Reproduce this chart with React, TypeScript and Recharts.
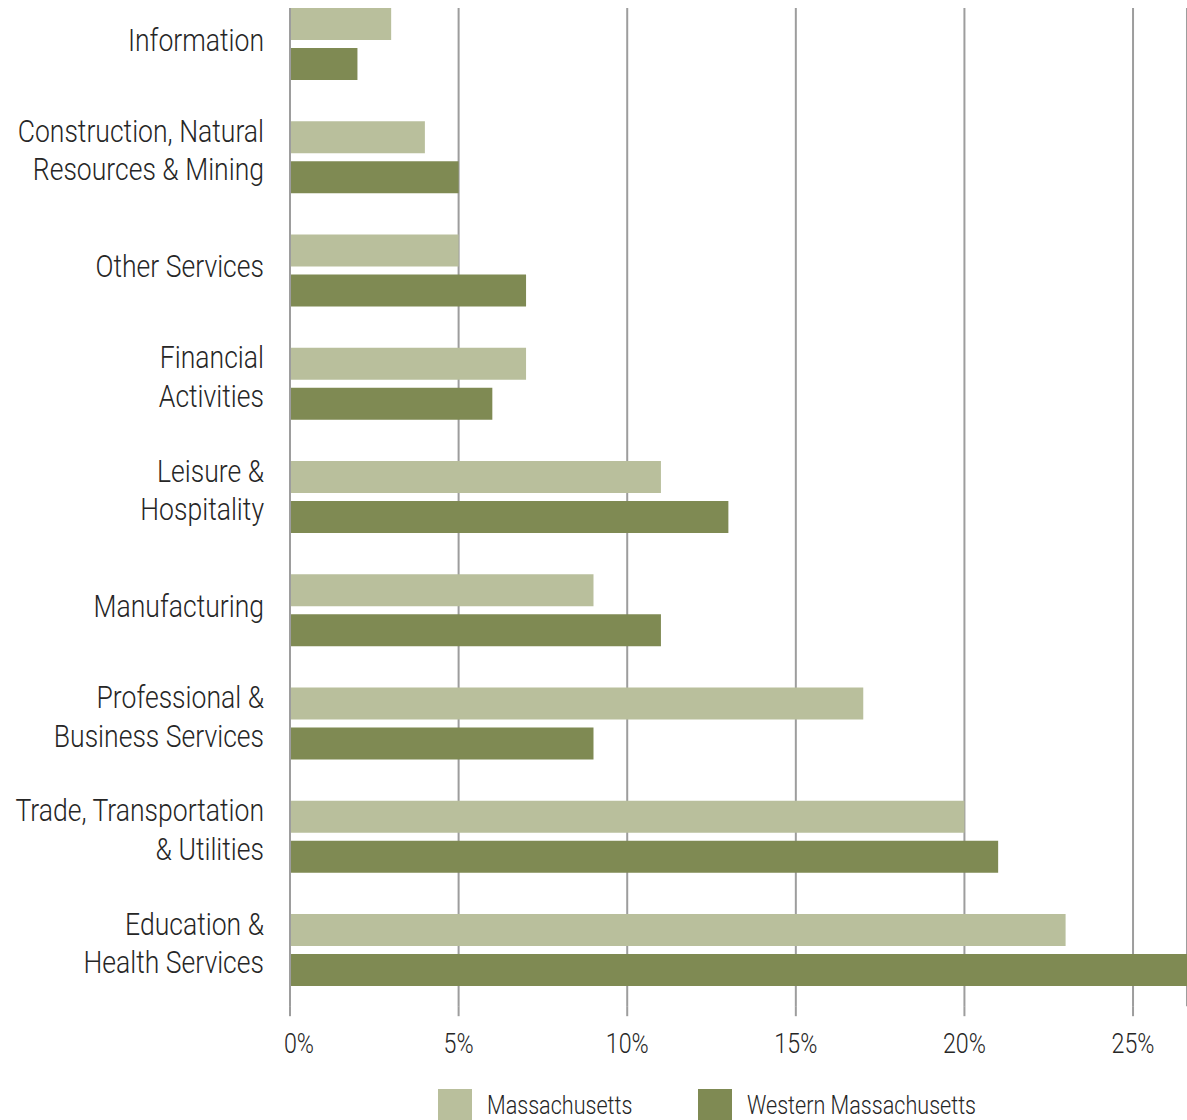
import React from 'react';
import { BarChart, Bar, XAxis, YAxis, CartesianGrid, Legend } from 'recharts';

// --- Data ---
const categories = [
    'Information',
    'Construction, Natural\nResources & Mining',
    'Other Services',
    'Financial\nActivities',
    'Leisure &\nHospitality',
    'Manufacturing',
    'Professional &\nBusiness Services',
    'Trade, Transportation\n& Utilities',
    'Education &\nHealth Services',
];

const massachusetts = [3, 4, 5, 7, 11, 9, 17, 20, 23];
const westernMassachusetts = [2, 5, 7, 6, 13, 11, 9, 21, 27];

const xTicks = [0, 5, 10, 15, 20, 25];

const SERIES = [
    { key: 'ma', name: 'Massachusetts', color: '#b9bf9c' },
    { key: 'wma', name: 'Western Massachusetts', color: '#7f8a53' },
];

const data = categories.map((name, i) => ({
    name,
    ma: massachusetts[i],
    wma: westernMassachusetts[i],
}));

// no condensed font installed, so squeeze Roboto Light horizontally
const FONT = 'Roboto, "Liberation Sans", sans-serif';
const SQUEEZE = 0.83;
const TEXT = '#262626';
const GRID = '#9d9d9d';

const CategoryTick = ({ x, y, payload }: any) => {
    const lines = String(payload.value).split('\n');
    const offsets = lines.length === 1 ? [7] : [-15, 23.5];
    return (
        <g>
            {lines.map((line, i) => (
                <text
                    key={i}
                    transform={`translate(${x},${y + offsets[i]}) scale(${SQUEEZE},1)`}
                    textAnchor="end"
                    fontFamily={FONT}
                    fontWeight={300}
                    fontSize={32}
                    fill={TEXT}
                >
                    {line}
                </text>
            ))}
        </g>
    );
};

const PercentTick = ({ x, y, payload }: any) => (
    <text
        transform={`translate(${payload.value === 0 ? x + 9 : x},${y + 37}) scale(${SQUEEZE},1)`}
        textAnchor="middle"
        fontFamily={FONT}
        fontWeight={300}
        fontSize={28}
        fill={TEXT}
    >
        {`${payload.value}%`}
    </text>
);

const LegendContent = () => (
    <div style={{ position: 'relative', width: 1187, height: 40 }}>
        {SERIES.map((s, i) => {
            const left = i === 0 ? 438 : 698;
            return (
                <div key={s.key} style={{ position: 'absolute', left, top: 0, display: 'flex', alignItems: 'flex-start' }}>
                    <div style={{ width: 34, height: 34, background: s.color }} />
                    <span
                        style={{
                            marginLeft: 15,
                            fontFamily: FONT,
                            fontWeight: 300,
                            fontSize: 26,
                            lineHeight: '32px',
                            color: TEXT,
                            whiteSpace: 'nowrap',
                            display: 'inline-block',
                            transform: `scale(${SQUEEZE},1)`,
                            transformOrigin: 'left center',
                        }}
                    >
                        {s.name}
                    </span>
                </div>
            );
        })}
    </div>
);

export default function App() {
    return (
        <div style={{ position: 'relative', width: 1187, height: 1120, overflow: 'hidden', background: '#fff' }}>
            <style>{`body { margin: 0; }`}</style>
            <div style={{ position: 'absolute', top: 8, left: 0, width: 1187, height: 1112, overflow: 'hidden' }}>
                <div style={{ position: 'relative', top: -20.6 }}>
                    <BarChart
                        width={1187}
                        height={1079.2}
                        data={data}
                        layout="vertical"
                        margin={{ top: 0, right: 0, bottom: 0, left: 0 }}
                        barSize={32}
                        barGap={8}
                    >
                        <CartesianGrid horizontal={false} vertical stroke={GRID} strokeWidth={2} />
                        <XAxis
                            type="number"
                            domain={[0, 26.6]}
                            ticks={xTicks}
                            allowDataOverflow
                            axisLine={false}
                            tickLine={{ stroke: GRID, strokeWidth: 2 }}
                            tickSize={10}
                            tickMargin={0}
                            height={60}
                            tick={<PercentTick />}
                            interval={0}
                        />
                        <YAxis
                            type="category"
                            dataKey="name"
                            width={290}
                            axisLine={{ stroke: GRID, strokeWidth: 2 }}
                            tickLine={false}
                            tickSize={0}
                            tickMargin={26}
                            tick={<CategoryTick />}
                            interval={0}
                        />
                        <Legend
                            layout="horizontal"
                            verticalAlign="middle"
                            align="center"
                            content={<LegendContent />}
                            wrapperStyle={{ position: 'absolute', top: 1101.6, left: 0, width: 1187, height: 40 }}
                        />
                        {SERIES.map((s) => (
                            <Bar key={s.key} dataKey={s.key} name={s.name} fill={s.color} isAnimationActive={false} />
                        ))}
                    </BarChart>
                </div>
            </div>
        </div>
    );
}
